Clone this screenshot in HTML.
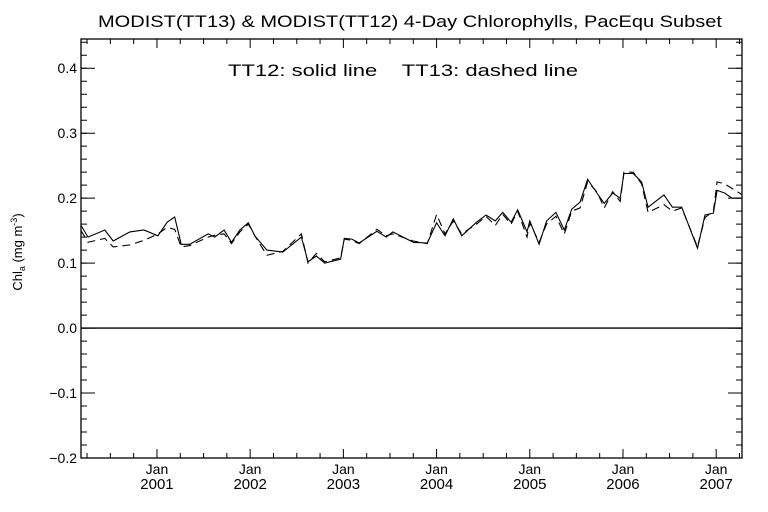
<!DOCTYPE html>
<html><head><meta charset="utf-8"><style>
html,body{margin:0;padding:0;background:#fff;}
svg{display:block;font-family:"Liberation Sans",sans-serif;}
</style></head><body>
<svg id="chart" width="768" height="512" viewBox="0 0 768 512" xmlns="http://www.w3.org/2000/svg">
<rect width="768" height="512" fill="#fff"/>
<text x="98" y="27" font-size="17" textLength="624" lengthAdjust="spacingAndGlyphs">MODIST(TT13) &amp; MODIST(TT12) 4-Day Chlorophylls, PacEqu Subset</text>
<text x="228" y="76" font-size="17" textLength="350" lengthAdjust="spacingAndGlyphs">TT12: solid line&#160;&#160;&#160;&#160;TT13: dashed line</text>
<text transform="translate(22,252) rotate(-90)" font-size="13" text-anchor="middle">Chl<tspan font-size="9" dy="3">a</tspan><tspan dy="-3"> (mg m</tspan><tspan font-size="9" dy="-5">-3</tspan><tspan dy="5">)</tspan></text>
<g id="axes"></g>
<g id="series"></g>
</svg>
<script>
const dates = [2000.185,2000.26,2000.44,2000.53,2000.71,2000.86,2001.01,2001.11,2001.19,2001.26,2001.35,2001.55,2001.62,2001.72,2001.80,2001.89,2001.98,2002.05,2002.18,2002.35,2002.55,2002.62,2002.71,2002.80,2002.97,2003.01,2003.09,2003.17,2003.36,2003.46,2003.53,2003.75,2003.90,2004.00,2004.09,2004.18,2004.27,2004.43,2004.53,2004.63,2004.71,2004.80,2004.87,2004.97,2005.00,2005.10,2005.18,2005.28,2005.37,2005.45,2005.54,2005.62,2005.72,2005.80,2005.89,2005.97,2006.01,2006.11,2006.20,2006.27,2006.44,2006.53,2006.63,2006.80,2006.88,2006.97,2007.01,2007.09,2007.17,2007.28];
const tt12 = [0.158,0.140,0.151,0.134,0.148,0.151,0.142,0.163,0.171,0.129,0.129,0.145,0.140,0.151,0.132,0.151,0.162,0.142,0.120,0.117,0.140,0.102,0.111,0.100,0.106,0.138,0.137,0.131,0.149,0.140,0.148,0.132,0.131,0.162,0.142,0.168,0.142,0.163,0.174,0.165,0.178,0.163,0.182,0.148,0.165,0.129,0.165,0.178,0.151,0.183,0.194,0.229,0.208,0.192,0.208,0.200,0.238,0.238,0.225,0.186,0.205,0.186,0.186,0.123,0.174,0.177,0.212,0.208,0.200,0.200];
const tt13 = [0.150,0.132,0.138,0.125,0.128,0.135,0.145,0.155,0.152,0.125,0.127,0.140,0.143,0.145,0.130,0.148,0.160,0.142,0.112,0.118,0.145,0.100,0.115,0.102,0.108,0.137,0.135,0.130,0.152,0.142,0.145,0.134,0.130,0.175,0.145,0.165,0.145,0.160,0.172,0.158,0.175,0.160,0.180,0.140,0.162,0.132,0.160,0.172,0.145,0.180,0.185,0.225,0.210,0.185,0.210,0.195,0.240,0.240,0.222,0.178,0.190,0.180,0.185,0.125,0.170,0.180,0.225,0.222,0.215,0.205];
const yTicks = [-0.2,-0.1,0.0,0.1,0.2,0.3,0.4];
const yTickLabels = ["\u22120.2","\u22120.1","0.0","0.1","0.2","0.3","0.4"];
const xYears = [2001,2002,2003,2004,2005,2006,2007];

const L=81,R=742,T=39,B=458;
const X0=2000.185,X1=2007.277,Y0=-0.2,Y1=0.445;
const xs=v=>L+(v-X0)/(X1-X0)*(R-L);
const ys=v=>B-(v-Y0)/(Y1-Y0)*(B-T);
const NS="http://www.w3.org/2000/svg";
const axes=document.getElementById('axes'), ser=document.getElementById('series');
function mk(tag,attrs,parent){const e=document.createElementNS(NS,tag);for(const k in attrs)e.setAttribute(k,attrs[k]);parent.appendChild(e);return e;}

const frame=mk('rect',{x:L,y:T,width:R-L,height:B-T,fill:'none',stroke:'#000','stroke-width':1.3},axes);


const zl=mk('line',{x1:L,x2:R,y1:ys(0),y2:ys(0),stroke:'#000','stroke-width':1.3},axes);



for(let i=-10;i<=22;i++){const v=i*0.02;if(v<Y0-1e-9||v>Y1)continue;const y=ys(v);
 const t=mk('path',{d:`M${L},${y}h6M${R},${y}h-6`,stroke:'#000','stroke-width':1},axes);
 
 }
yTicks.forEach((v,i)=>{const y=ys(v);
 const t=mk('path',{d:`M${L},${y}h14M${R},${y}h-14`,stroke:'#000','stroke-width':1},axes);
 
 
 const tx=mk('text',{x:L-4,y:y+5,'font-size':14,'text-anchor':'end'},axes);tx.textContent=yTickLabels[i];
 
 });
for(let q=2000.25;q<X1;q+=0.25){const x=xs(q);const major=Math.abs(q-Math.round(q))<1e-6;const h=major?9:5;
 const t=mk('path',{d:`M${x},${B}v${-h}M${x},${T}v${h}`,stroke:'#000','stroke-width':1},axes);
 
 }
xYears.forEach(yr=>{const x=xs(yr);
 const a=mk('text',{x:x,y:B+16,'font-size':14,'text-anchor':'middle'},axes);a.textContent='Jan';
 
 
 const b=mk('text',{x:x,y:B+31,'font-size':15,'text-anchor':'middle'},axes);b.textContent=String(yr);
 
 });

function line(vals,dash,name){const d=vals.map((v,i)=>(i?'L':'M')+xs(dates[i]).toFixed(1)+','+ys(v).toFixed(1)).join('');
 const p=mk('path',{d:d,fill:'none',stroke:'#000','stroke-width':1.1},ser);if(dash)p.setAttribute('stroke-dasharray',dash);
 
 }
line(tt13,'8,5','tt13-dashed-line');
line(tt12,null,'tt12-solid-line');
</script>
</body></html>
